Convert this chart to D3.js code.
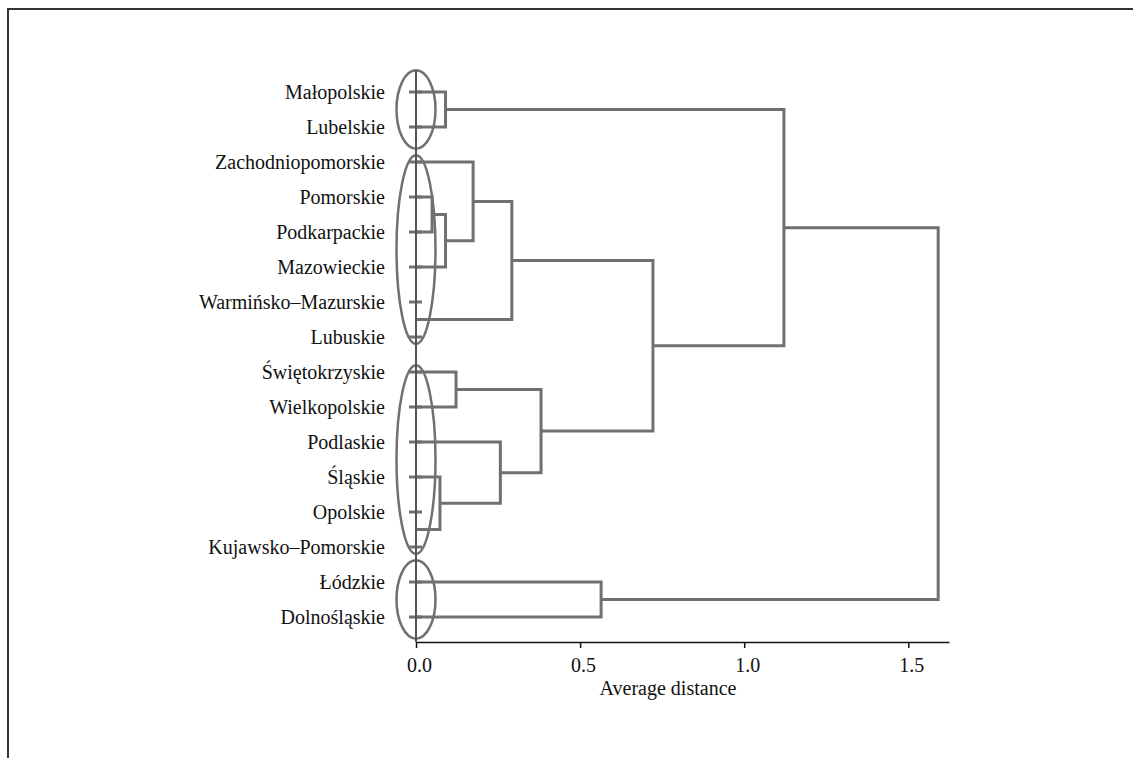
<!DOCTYPE html>
<html>
<head>
<meta charset="utf-8">
<script src="https://cdn.jsdelivr.net/npm/d3@7"></script>
<style>
  body { margin: 0; background: #fff; }
  svg { display: block; font-family: "Liberation Serif", "DejaVu Serif", serif; }
</style>
</head>
<body>
<svg id="chart" width="1133" height="758"></svg>
<script>
// leaves, top to bottom as drawn
const leaves = ["Małopolskie", "Lubelskie", "Zachodniopomorskie", "Pomorskie", "Podkarpackie",
  "Mazowieckie", "Warmińsko–Mazurskie", "Lubuskie", "Świętokrzyskie", "Wielkopolskie",
  "Podlaskie", "Śląskie", "Opolskie", "Kujawsko–Pomorskie", "Łódzkie", "Dolnośląskie"];

// hclust style merge table: negative = leaf (1-based), positive = earlier merge row (1-based)
const merges = [
  [-7, -8], [-13, -14], [-4, -5], [-12, 2], [-6, 3], [-1, -2], [-9, -10], [-3, 5],
  [-11, 4], [8, 1], [7, 9], [-15, -16], [10, 11], [6, 13], [14, 12]
];
const heights = [0, 0, 0.049, 0.073, 0.09, 0.09, 0.122, 0.174, 0.257, 0.292,
  0.381, 0.564, 0.722, 1.121, 1.591];

// circled clusters: first and last leaf
const groups = [
  ["Małopolskie", "Lubelskie"],
  ["Zachodniopomorskie", "Lubuskie"],
  ["Świętokrzyskie", "Kujawsko–Pomorskie"],
  ["Łódzkie", "Dolnośląskie"]
];

const xTicks = [0, 0.5, 1.0, 1.5];
const xMax = 1.624;
const xTitle = "Average distance";

const gray = "#707070";
const svg = d3.select("#chart");

// frame (cut off on the right and bottom)
svg.append("rect")
   .attr("x", 8).attr("y", 9)
   .attr("width", 1200).attr("height", 800)
   .attr("fill", "none")
   .attr("stroke", "#333")
   .attr("stroke-width", 2);

const x = d3.scaleLinear().domain([0, xMax]).range([416, 949]);
const y = d3.scalePoint().domain(leaves).range([92, 617]);
const axisY = 642;

function build(i) {
  if (i < 0) return { name: leaves[-i - 1], h: 0 };
  const m = merges[i - 1];
  return { h: heights[i - 1], children: [build(m[0]), build(m[1])] };
}

const root = d3.hierarchy(build(merges.length));
root.eachAfter((d) => {
  d.py = d.children ? d3.mean(d.children, (c) => c.py) : y(d.data.name);
});

// U shaped links
const internal = root.descendants().filter((d) => d.children && d.data.h > 0);
svg.append("g")
   .attr("fill", "none")
   .attr("stroke", gray)
   .attr("stroke-width", 3)
   .selectAll("path")
   .data(internal)
   .join("path")
   .attr("d", (d) => {
     const [a, b] = d.children;
     return "M" + x(a.data.h) + "," + a.py + "H" + x(d.data.h) + "V" + b.py + "H" + x(b.data.h);
   });

// leaf dashes
svg.append("g")
   .attr("stroke", gray)
   .attr("stroke-width", 3)
   .selectAll("line")
   .data(root.leaves())
   .join("line")
   .attr("x1", x(0) - 7)
   .attr("x2", x(0) + 6)
   .attr("y1", (d) => d.py)
   .attr("y2", (d) => d.py);

// ellipses around the clusters
const step = y.step();
const ell = groups.map(([a, b]) => {
  const half = (y(b) - y(a)) / 2;
  return { cy: (y(a) + y(b)) / 2, ry: Math.sqrt(half * half + step * step) };
});
svg.append("g")
   .attr("fill", "none")
   .attr("stroke", gray)
   .attr("stroke-width", 2.5)
   .selectAll("ellipse")
   .data(ell)
   .join("ellipse")
   .attr("cx", x(0))
   .attr("cy", (d) => d.cy)
   .attr("rx", 19.5)
   .attr("ry", (d) => d.ry);

// zero line
svg.append("line")
   .attr("x1", x(0)).attr("x2", x(0))
   .attr("y1", ell[0].cy - ell[0].ry)
   .attr("y2", axisY)
   .attr("stroke", "#555")
   .attr("stroke-width", 2);

// leaf labels
svg.append("g")
   .selectAll("text")
   .data(leaves)
   .join("text")
   .attr("x", x(0) - 31)
   .attr("y", (d) => y(d))
   .attr("dy", "0.35em")
   .attr("text-anchor", "end")
   .attr("font-size", 20)
   .attr("fill", "#111")
   .text((d) => d);

// x axis
const axis = svg.append("g")
   .attr("transform", "translate(0," + axisY + ")")
   .call(d3.axisBottom(x)
     .tickValues(xTicks)
     .tickFormat(d3.format(".1f"))
     .tickSize(6)
     .tickSizeOuter(0)
     .tickPadding(10));
axis.select(".domain").attr("stroke", "#111").attr("stroke-width", 1.5);
axis.selectAll(".tick line").attr("stroke", "#111").attr("stroke-width", 1.5);
axis.selectAll(".tick text")
    .attr("font-family", "Liberation Serif, DejaVu Serif, serif")
    .attr("font-size", 20)
    .attr("fill", "#111")
    .attr("dx", 3);

svg.append("text")
   .attr("x", 668)
   .attr("y", 695)
   .attr("text-anchor", "middle")
   .attr("font-size", 20)
   .attr("fill", "#111")
   .text(xTitle);
</script>
</body>
</html>
